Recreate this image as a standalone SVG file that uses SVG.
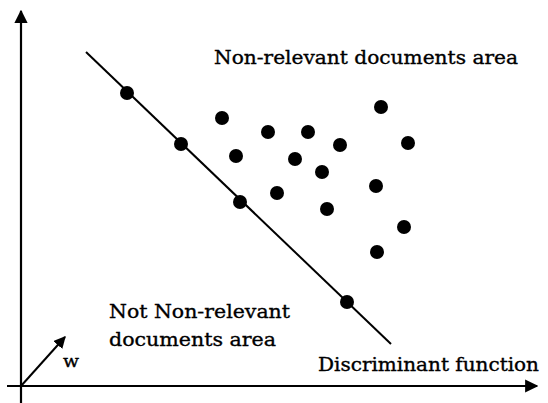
<svg xmlns="http://www.w3.org/2000/svg" width="548" height="403" viewBox="0 0 548 403">
  <style>
    .axis { stroke: #000; stroke-width: 2.2; fill: none; }
    .line { stroke: #000; stroke-width: 2; fill: none; }
    .dot { fill: #000; }
    .lbl { font-family: "DejaVu Serif", "Liberation Serif", serif; font-size: 19px; fill: #000; stroke: #000; stroke-width: 0.35; }
  </style>
  <defs>
    <marker id="arrow" viewBox="0 0 10 10" refX="9" refY="5" markerWidth="6" markerHeight="6" orient="auto" markerUnits="strokeWidth">
      <path d="M0,0 L10,5 L0,10 Z" fill="#000"/>
    </marker>
  </defs>
  <rect width="548" height="403" fill="#fff"/>

  <!-- axes and weight vector -->
  <g id="connectors">
    <line id="y-axis" class="axis" x1="21" y1="403" x2="21" y2="11" marker-end="url(#arrow)"/>
    <line id="x-axis" class="axis" x1="7" y1="386" x2="537" y2="386" marker-end="url(#arrow)"/>
    <line id="w-vector" class="line" x1="21" y1="386" x2="65" y2="337" marker-end="url(#arrow)"/>
    <line id="discriminant" class="line" x1="86" y1="52" x2="391" y2="344"/>
  </g>

  <!-- points on the discriminant function -->
  <g id="boundary-points">
    <circle class="dot" cx="127" cy="93" r="7"/>
    <circle class="dot" cx="181" cy="144" r="7"/>
    <circle class="dot" cx="240" cy="202" r="7"/>
    <circle class="dot" cx="347" cy="302" r="7"/>
  </g>

  <!-- non-relevant documents -->
  <g id="non-relevant-points">
    <circle class="dot" cx="222" cy="118" r="7"/>
    <circle class="dot" cx="268" cy="132" r="7"/>
    <circle class="dot" cx="308" cy="132" r="7"/>
    <circle class="dot" cx="340" cy="145" r="7"/>
    <circle class="dot" cx="381" cy="107" r="7"/>
    <circle class="dot" cx="408" cy="143" r="7"/>
    <circle class="dot" cx="236" cy="156" r="7"/>
    <circle class="dot" cx="295" cy="159" r="7"/>
    <circle class="dot" cx="322" cy="172" r="7"/>
    <circle class="dot" cx="277" cy="193" r="7"/>
    <circle class="dot" cx="376" cy="186" r="7"/>
    <circle class="dot" cx="327" cy="209" r="7"/>
    <circle class="dot" cx="404" cy="227" r="7"/>
    <circle class="dot" cx="377" cy="252" r="7"/>
  </g>

  <g id="labels">
    <text class="lbl" x="214" y="64" textLength="304" lengthAdjust="spacingAndGlyphs">Non-relevant documents area</text>
    <text class="lbl" x="109" y="318" textLength="181" lengthAdjust="spacingAndGlyphs">Not Non-relevant</text>
    <text class="lbl" x="109" y="346" textLength="167" lengthAdjust="spacingAndGlyphs">documents area</text>
    <text class="lbl" x="318" y="371" textLength="221" lengthAdjust="spacingAndGlyphs">Discriminant function</text>
    <text class="lbl" x="63" y="367" textLength="16" lengthAdjust="spacingAndGlyphs" style="font-size:16px">w</text>
  </g>
</svg>
